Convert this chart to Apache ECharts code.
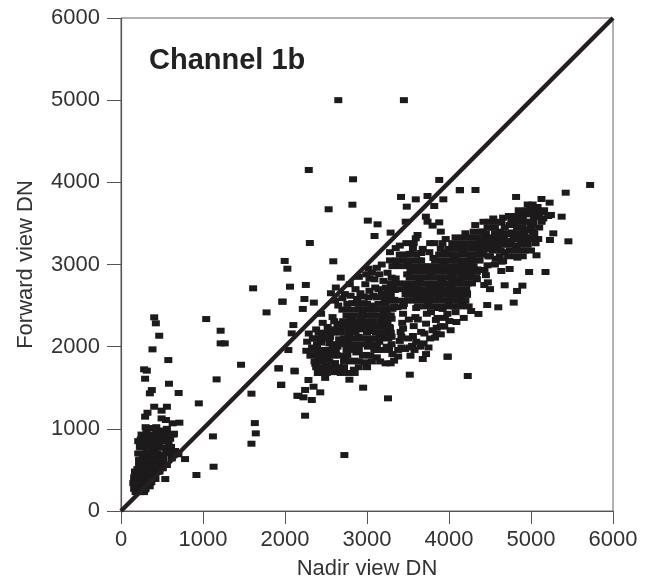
<!DOCTYPE html>
<html><head><meta charset="utf-8">
<style>html,body{margin:0;padding:0;background:#fff}#c{width:654px;height:580px}</style>
<script src="https://cdn.jsdelivr.net/npm/echarts@6/dist/echarts.min.js"></script>
</head><body><div id="c"></div>
<script>
const xName = "Nadir view DN";
const yName = "Forward view DN";
const chartLabel = "Channel 1b";
const oneToOne = [[0,0],[6000,6000]];

const scattered = [[2650,5000],[3450,5000],[2724,681],[1611,2710],[2061,2730],[1967,2547],[1775,2417],[1039,2336],[1215,2194],[1215,2040],[1265,2040],[1464,1780],[1166,1602],[1591,1428],[949,1310],[1632,1070],[1644,945],[1591,819],[1121,908],[1129,539],[920,438],[781,632],[1926,1736],[2119,1699],[1951,1533],[2151,1403],[2041,1959],[2102,2263],[2082,2162],[2290,4150],[2830,4037],[3881,4029],[3415,3822],[3595,3793],[3738,3834],[3931,3793],[4131,3903],[3485,3704],[2822,3728],[2532,3672],[3820,3712],[3010,3534],[3129,3489],[3092,3347],[3288,3388],[3472,3521],[3718,3582],[3738,3521],[3881,3513],[3800,3473],[3616,3359],[3595,3319],[2303,3262],[1996,3043],[2029,2949],[2589,3039],[2254,2751],[1971,2548],[2237,2580],[2217,2459],[2352,2536],[1918,1736],[2115,1708],[1955,1538],[2286,1594],[2245,1473],[2164,1400],[2327,1351],[2430,1444],[2348,1513],[2245,1160],[2225,1383],[2785,1598],[2953,1501],[3256,1371],[3522,1659],[3464,1972],[3984,1878],[4229,1643],[3227,1797],[3288,1797],[5721,3968],[5423,3874],[4323,3907],[4134,3907],[4818,3822],[5128,3797],[5227,3753],[5374,3582],[5243,3603],[5272,3379],[5231,3298],[5456,3282],[5067,3112],[4977,2909],[5177,2909],[4679,2747],[4895,2743],[4830,2678],[4789,2536],[4466,2507],[4601,2479],[4270,2434],[4359,2398],[3848,2154],[3983,1878]];

const lowCluster = [[405,2357],[425,2284],[466,2133],[384,1967],[577,1837],[282,1724],[315,1708],[294,1610],[585,1549],[376,1472],[352,1432],[703,1436],[405,1269],[560,1269],[323,1196],[294,1148],[495,1221],[495,1127],[548,1107],[630,1067],[712,1075],[646,941],[540,389],
[370,1010],[310,960],[430,960],[500,980],[560,950],[240,870],[300,880],[350,900],[400,870],[460,900],[520,850],[580,820],[230,780],[280,790],[340,800],[390,780],[440,810],[500,770],[620,720],[650,690],[230,700],[270,690],[320,710],[360,690],[410,720],[460,690],[510,680],[250,620],[300,640],[350,620],[390,650],[440,610],[490,630],[560,560],[240,550],[280,570],[330,560],[370,590],[420,550],[470,560],[510,520],[200,510],[240,490],[280,510],[320,480],[360,520],[400,470],[450,480],[180,450],[220,440],[260,460],[300,430],[340,450],[380,420],[420,390],[170,390],[210,380],[250,400],[290,370],[330,390],[370,350],[190,340],[230,320],[270,340],[310,310],[350,300],[170,300],[210,270],[250,280],[290,260],[180,240],[230,230],[550,760],[610,780],[660,730],[700,690],[590,700],[620,640],[520,900],[600,880],[640,930],[560,1000]];
const lowRows = [[230,[180,280]],[270,[160,230,300]],[340,[150,200,250,300,350]],[410,[160,240,290,350,410]],[480,[170,220,280,340,400,470]],[550,[220,300,360,450]],[620,[220,280,330,420,520]],[700,[210,300,380,440,560]],[780,[260,320,420,470]],[850,[210,280,370,440,490]],[930,[250,340,400,470]],[1020,[300,430]]];

const lowerBlob = [[2260,1950],[2270,2060],[2290,2160],[2310,1890],[2330,1990],[2340,2100],[2370,1790],[2380,2210],[2400,1680],[2410,1870],[2420,1960],[2440,2050],[2450,2150],[2460,2290],[2490,1620],[2500,1760],[2510,1850],[2530,1950],[2540,2040],[2550,2120],[2560,2210],[2580,2360],[2600,1690],[2610,1800],[2630,1900],[2640,2000],[2660,2090],[2670,2180],[2690,2280],[2700,2450],[2720,1750],[2730,1860],[2750,1960],[2760,2050],[2780,2150],[2790,2240],[2810,2340],[2820,2530],[2840,1720],[2850,1830],[2870,1930],[2880,2020],[2900,2120],[2910,2210],[2930,2310],[2950,2420],[2960,2610],[2980,1810],[2990,1900],[3010,2000],[3020,2090],[3040,2190],[3050,2290],[3070,2380],[3080,2500],[3100,2720],[3120,1870],[3130,1960],[3150,2060],[3160,2160],[3180,2250],[3190,2340],[3210,2440],[3220,2580],[2680,2840],[2790,2760],[2900,2850],[3030,2830],[2560,2650],[2620,2720],[2730,2640],[2860,2700],[2980,2760],[3060,2900],[3120,2960],[3200,2800],[3180,3000],[3250,2900],[2610,2560],[2440,2400],[2650,2500],[2700,2590],[2760,2520],[2800,2620],[2880,2580],[2920,2650],[2960,2530],[3030,2680],[3080,2620],[3140,2700],[3180,2650],[3020,2950],[3090,2820],[3150,2880],[3230,2720],[3260,2660],[3310,2750],[2990,2880]];
const lowerRows = [[1680,[2420,2510,2680,2770,2850]],[1750,[2380,2470,2560,2650,2900,3000]],[1820,[2360,2450,2540,2720,2810,2900,3060,3160]],[1890,[2400,2490,2580,2670,2760,2950,3040]],[1960,[2350,2440,2530,2620,2810,2900,3090,3180,3270]],[2030,[2390,2580,2670,2760,2850,2940,3030,3120,3300]],[2100,[2360,2450,2540,2720,2810,2900,2990,3080,3170,3260]],[2170,[2410,2500,2590,2680,2770,2860,3000,3110,3200,3290]],[2240,[2520,2640,2730,2820,2910,3000,3090,3180,3270]],[2310,[2600,2710,2800,2890,2980,3070,3160,3250]],[2380,[2750,2840,2930,3020,3110,3200,3290]],[2450,[2790,2880,2970,3060,3150,3240]],[2520,[2900,3000,3140,3230]],[2600,[3020,3120,3210,3280]]];

const mainBand = [[3240,2000],[3260,2120],[3280,2230],[3300,2340],[3310,2460],[3330,2570],[3340,2690],[3350,2830],[3360,3040],[3380,1960],[3400,2070],[3410,2180],[3430,2290],[3440,2400],[3450,2520],[3470,2640],[3480,2760],[3490,2880],[3500,3000],[3520,3130],[3530,1890],[3550,2010],[3560,2130],[3570,2250],[3590,2360],[3600,2470],[3610,2590],[3620,2700],[3640,2810],[3650,2930],[3660,3050],[3680,3190],[3690,2040],[3700,2160],[3720,2280],[3730,2400],[3740,2510],[3760,2620],[3770,2730],[3780,2850],[3790,2960],[3810,3080],[3820,3260],[3830,2110],[3850,2230],[3860,2350],[3870,2470],[3880,2590],[3900,2700],[3910,2810],[3920,2930],[3930,3040],[3950,3150],[3960,3310],[3980,2400],[4000,2510],[4010,2630],[4020,2740],[4030,2860],[4050,2970],[4060,3090],[4070,3200],[4090,3050],[4110,2560],[4120,2680],[4130,2790],[4150,2910],[4160,3020],[4170,3130],[4190,3250],[4200,3380],[4220,2650],[4230,2770],[4250,2880],[4260,3000],[4270,3110],[4290,3230],[4300,3330],[4320,3480],[4340,2820],[4350,2940],[4370,3050],[4380,3170],[4390,3280],[4410,3400],[4430,2750],[4450,2870],[3250,2380],[3370,2480],[3540,2720],[3700,2600],[3830,2750],[3950,2650],[4040,2790],[3780,2420],[3620,2330],[3440,2220],[3900,2250],[3950,2350],[4080,2420],[4167,2519],[4126,2609],[3922,2459],[3840,2325],[4004,2312],[3942,2244],[3510,2330],[3660,2180],[3300,2120],[3420,1990],[3580,1960],[3750,1990],[3680,1850],[3280,3150],[3350,3200],[3440,3120],[3400,3230],[3480,3260],[3570,3260],[3660,3140],[3760,3150],[3770,3260],[3900,3400],[3330,1830],[3420,2120],[3500,2100],[3600,2060],[3650,2000],[3770,2100],[3800,2200],[3900,2150],[4020,2200],[4090,2300],[4180,2350],[3720,1910],[3520,1990],[3380,1880],[3310,1910]];
const coreRows = [[2490,[3330,3440,3620,3710,3800,3890,3980,4060,4150,4240]],[2560,[3300,3390,3480,3570,3660,3750,3840,3930,4020,4110,4200]],[2630,[3290,3500,3590,3680,3770,3860,3950,4040,4130,4220]],[2700,[3310,3400,3490,3580,3670,3760,3850,3940,4030,4120,4210]],[2770,[3290,3380,3470,3560,3650,3740,3830,3920,4010,4100,4190,4280]],[2840,[3300,3520,3610,3700,3790,3880,3970,4060,4150,4240,4330]],[2910,[3530,3620,3710,3800,3890,3980,4070,4160,4250,4340]],[2980,[3310,3400,3490,3580,3670,3760,3850,3940,4030,4120,4210,4300]],[3050,[3280,3360,3450,3540,3630,3830,3920,4010,4100,4190,4280,4370]],[3120,[3400,3500,3600,3880,3970,4060,4150,4240,4330,4420]],[3190,[3560,3900,4000,4090,4180,4270,4360,4450]],[3260,[3920,4040,4130,4220,4310,4400]],[3330,[4080,4170,4260,4350,4440]],[3400,[4300,4390]]];

const upperArm = [[4470,2990],[4480,3100],[4500,3210],[4520,3330],[4530,3450],[4540,3560],[4570,3070],[4590,3180],[4600,3290],[4620,3400],[4640,3510],[4660,3570],[4660,3040],[4680,3150],[4700,3260],[4720,3370],[4740,3480],[4760,3290],[4770,3390],[4790,3490],[4810,3580],[4820,3230],[4840,3340],[4860,3450],[4880,3550],[4900,3620],[4920,3300],[4930,3420],[4950,3520],[4970,3610],[4990,3690],[5020,3480],[5040,3580],[5060,3640],[5080,3700],[5130,3640],[5150,3560],[4638,3035],[4740,2945],[4638,2921],[4433,2933],[4474,2783],[4834,3083],[4500,2700],[4560,3000],[4420,3150],[5055,3258],[5088,3310],[4950,3330],[5020,3400]];
const armRows = [[3100,[4500,4620,4720,4810,4900]],[3170,[4530,4630,4740,4830,4920,5000]],[3240,[4480,4570,4660,4750,4870,4960]],[3310,[4490,4580,4670,4790,4880,5010]],[3380,[4450,4560,4650,4740,4830,4920,5040]],[3450,[4470,4560,4680,4830,4900,5000,5100]],[3520,[4420,4490,4580,4760,4850,4940,5030,5130]],[3590,[4730,4810,4900,5040,5100,5210]],[3660,[4850,4940,5020,5160]],[3730,[4960,5020]]];

const fromRows = rows => rows.flatMap(([y, xs]) => xs.map(x => [x, y]));
const allPoints = [...scattered, ...lowCluster, ...fromRows(lowRows), ...lowerBlob, ...fromRows(lowerRows), ...mainBand, ...fromRows(coreRows), ...upperArm, ...fromRows(armRows)];

const chart = echarts.init(document.getElementById('c'), null, {renderer:'canvas'});
const font = '"Liberation Sans", Arial, sans-serif';
const axisBase = {
  type:'value', min:0, max:6000, interval:1000, splitLine:{show:false},
  nameLocation:'middle',
  nameTextStyle:{fontFamily:font,fontSize:22,color:'#333'},
  axisLine:{show:true,lineStyle:{color:'#555',width:1.2}},
  axisLabel:{fontFamily:font,fontSize:22,color:'#333',formatter:v=>String(v),showMinLabel:true,showMaxLabel:true,hideOverlap:false}
};
chart.setOption({
  animation:false, backgroundColor:'#fff',
  grid:{left:121,right:41,top:18,bottom:69,outerBoundsMode:'none',show:true,borderColor:'#666',borderWidth:1,backgroundColor:'#fff'},
  xAxis:{...axisBase,name:xName,nameGap:47,axisTick:{length:13,lineStyle:{color:'#555'}},axisLabel:{...axisBase.axisLabel,margin:18}},
  yAxis:{...axisBase,name:yName,nameGap:84,axisTick:{length:14,lineStyle:{color:'#555'}},axisLabel:{...axisBase.axisLabel,margin:21}},
  graphic:[{type:'text',left:149,top:46,style:{text:chartLabel,fontFamily:font,fontWeight:'bold',fontSize:29,fill:'#222'}}],
  series:[
    {type:'scatter',data:allPoints,symbol:'rect',symbolSize:[8,6],itemStyle:{color:'#1c1a1a',opacity:1},z:3},
    {type:'line',data:oneToOne,showSymbol:false,symbol:'none',lineStyle:{color:'#231f1f',width:4.5},z:4}
  ]
});
</script></body></html>
